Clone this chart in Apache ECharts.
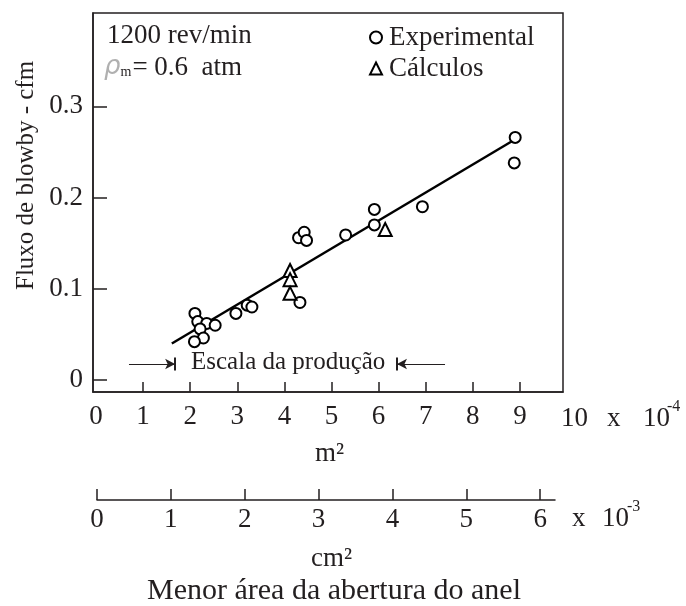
<!DOCTYPE html>
<html><head><meta charset="utf-8">
<script src="https://cdn.jsdelivr.net/npm/echarts@6/dist/echarts.min.js"></script>
<style>html,body{margin:0;padding:0;background:#fff}#c{width:686px;height:606px}</style>
</head><body><div id="c"></div>
<script>
// ---- data ----
const expX = [2.10, 2.16, 2.35, 2.53, 2.21, 2.28, 2.09, 2.97, 3.21, 3.31, 4.33, 4.30, 4.42, 4.47, 5.30, 5.91, 5.91, 6.93, 8.90, 8.88];
const expY = [0.073, 0.064, 0.062, 0.060, 0.056, 0.046, 0.042, 0.073, 0.082, 0.080, 0.085, 0.156, 0.162, 0.153, 0.159, 0.187, 0.170, 0.190, 0.266, 0.238];
const calcX = [4.12, 4.12, 4.12, 6.14];
const calcY = [0.120, 0.110, 0.095, 0.165];
const fitX = [1.61, 9.0];
const fitY = [0.040, 0.267];
const xTicks = [0, 1, 2, 3, 4, 5, 6, 7, 8, 9];
const yTicks = [0, 0.1, 0.2, 0.3];
const x2Ticks = [0, 1, 2, 3, 4, 5, 6];
const escalaStart = 1.68, escalaEnd = 6.39, escalaY = 0.0175;

const FONT = '"Liberation Serif", "Times New Roman", serif';
const INK = '#231f20';
const FS = 27;
const chart = echarts.init(document.getElementById('c'), null, {renderer: 'canvas'});
const zip = (a, b) => a.map((v, i) => [v, b[i]]);

chart.setOption({
  animation: false,
  backgroundColor: '#fff',
  grid: [
    {left: 93, top: 13, right: 123, bottom: 214, show: true, borderColor: INK, borderWidth: 1.5, backgroundColor: 'transparent'},
    {left: 97, top: 499, width: 458, height: 1}
  ],
  xAxis: [
    {gridIndex: 0, type: 'value', min: -0.064, max: 9.915,
      axisLine: {onZero: false, lineStyle: {color: INK, width: 1.5}},
      axisTick: {inside: true, length: 10, customValues: xTicks.slice(1), lineStyle: {color: INK, width: 1.5}},
      axisLabel: {customValues: xTicks, color: INK, fontFamily: FONT, fontSize: FS, margin: 11},
      splitLine: {show: false}},
    {gridIndex: 1, type: 'value', min: 0, max: 6.2, position: 'bottom',
      axisLine: {onZero: false, lineStyle: {color: INK, width: 1.5}},
      axisTick: {inside: true, length: 11, customValues: x2Ticks, lineStyle: {color: INK, width: 1.5}},
      axisLabel: {customValues: x2Ticks, color: INK, fontFamily: FONT, fontSize: FS, margin: 6},
      splitLine: {show: false}}
  ],
  yAxis: [
    {gridIndex: 0, type: 'value', min: -0.0132, max: 0.4024,
      axisLine: {show: true, onZero: false, lineStyle: {color: INK, width: 1.5}},
      axisTick: {show: true, inside: true, length: 14, customValues: yTicks, lineStyle: {color: INK, width: 1.5}},
      axisLabel: {customValues: yTicks, color: INK, fontFamily: FONT, fontSize: FS, margin: 10,
        formatter: v => (Math.abs(v) < 1e-9 ? '0' : v.toFixed(1))},
      splitLine: {show: false}},
    {gridIndex: 1, type: 'value', show: false, min: 0, max: 1}
  ],
  legend: {
    orient: 'vertical', left: 364, top: 19, itemGap: 4, itemWidth: 12, itemHeight: 12,
    data: ['Experimental', 'Cálculos'],
    textStyle: {color: INK, fontFamily: FONT, fontSize: FS, padding: [0, 0, 0, 2]}
  },
  series: [
    {name: 'Experimental', type: 'scatter', xAxisIndex: 0, yAxisIndex: 0,
      symbol: 'emptyCircle', symbolSize: 11,
      itemStyle: {color: '#000', borderColor: '#000', borderWidth: 2, opacity: 1},
      data: zip(expX, expY), z: 3},
    {name: 'Cálculos', type: 'scatter', xAxisIndex: 0, yAxisIndex: 0,
      symbol: 'emptyTriangle', symbolSize: 13,
      itemStyle: {color: '#000', borderColor: '#000', borderWidth: 2, opacity: 1},
      data: zip(calcX, calcY), z: 3},
    {name: 'ajuste', type: 'line', xAxisIndex: 0, yAxisIndex: 0,
      symbol: 'none', lineStyle: {color: '#000', width: 2.5},
      data: zip(fitX, fitY), z: 2,
      markLine: {
        silent: true, animation: false,
        lineStyle: {color: INK, width: 1.2, type: 'solid'},
        label: {show: false},
        data: [
          [{coord: [escalaStart - 0.98, escalaY], symbol: 'none'}, {coord: [escalaStart, escalaY], symbol: 'arrow', symbolSize: [8, 10]}],
          [{coord: [escalaEnd + 1.02, escalaY], symbol: 'none'}, {coord: [escalaEnd, escalaY], symbol: 'arrow', symbolSize: [8, 10]}],
          [{coord: [escalaStart, escalaY - 0.007], symbol: 'none'}, {coord: [escalaStart, escalaY + 0.007], symbol: 'none', lineStyle: {width: 2}}],
          [{coord: [escalaEnd, escalaY - 0.007], symbol: 'none'}, {coord: [escalaEnd, escalaY + 0.007], symbol: 'none', lineStyle: {width: 2}}]
        ]
      }}
  ],
  graphic: [
    {type: 'text', left: 107, top: 22, style: {text: '1200 rev/min', font: FS + 'px ' + FONT, fill: INK}},
    {type: 'text', left: 104, top: 54, style: {
      text: '{rho|ρ}{sub|m}{eq|= 0.6  atm}',
      rich: {
        rho: {font: 'italic 200 26px "DejaVu Sans", sans-serif', fill: '#b0b0b0', padding: [0, 0, 0, 0]},
        sub: {font: '14px ' + FONT, fill: INK, padding: [10, 1, 0, 0]},
        eq: {font: FS + 'px ' + FONT, fill: INK}
      }}},
    {type: 'text', left: 191, top: 350, style: {text: 'Escala da produção', font: '25px ' + FONT, fill: INK}},
    {type: 'text', left: 561, top: 405, style: {text: '10', font: FS + 'px ' + FONT, fill: INK}},
    {type: 'text', left: 607, top: 405, style: {text: 'x', font: FS + 'px ' + FONT, fill: INK}},
    {type: 'text', left: 643, top: 405, style: {text: '10', font: FS + 'px ' + FONT, fill: INK}},
    {type: 'text', left: 667, top: 399, style: {text: '-4', font: '16px ' + FONT, fill: INK}},
    {type: 'text', left: 315, top: 440, style: {text: 'm²', font: FS + 'px ' + FONT, fill: INK}},
    {type: 'text', left: 572, top: 505, style: {text: 'x', font: FS + 'px ' + FONT, fill: INK}},
    {type: 'text', left: 602, top: 505, style: {text: '10', font: FS + 'px ' + FONT, fill: INK}},
    {type: 'text', left: 627, top: 499, style: {text: '-3', font: '16px ' + FONT, fill: INK}},
    {type: 'text', left: 311, top: 545, style: {text: 'cm²', font: FS + 'px ' + FONT, fill: INK}},
    {type: 'text', left: 147, top: 576, style: {text: 'Menor área da abertura do anel', font: '30px ' + FONT, fill: INK}},
    {type: 'text', x: 14, y: 290, rotation: Math.PI / 2, style: {text: 'Fluxo de blowby - cfm', font: '25px ' + FONT, fill: INK}}
  ]
});
</script></body></html>
